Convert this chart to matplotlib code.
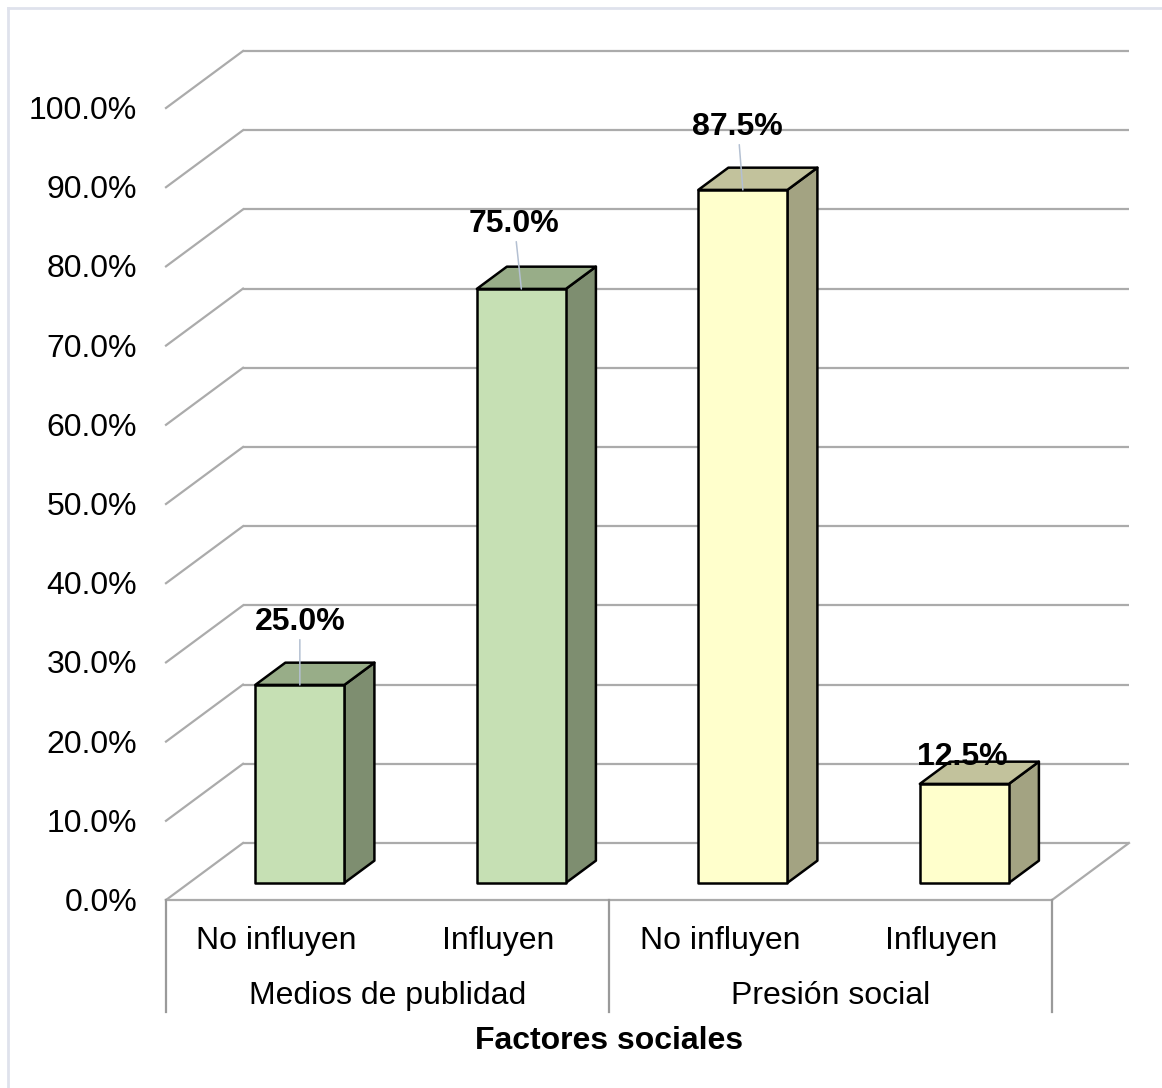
import matplotlib
matplotlib.use('Agg')
import matplotlib.pyplot as plt
from matplotlib.patches import Polygon
from matplotlib.lines import Line2D

plt.rcParams['font.family'] = ['Liberation Sans', 'DejaVu Sans']
plt.rcParams['font.size'] = 23

#%% Data
groups = ['Medios de publidad', 'Presión social']
categories = ['No influyen', 'Influyen', 'No influyen', 'Influyen']
values = [25.0, 75.0, 87.5, 12.5]
value_labels = ['25.0%', '75.0%', '87.5%', '12.5%']
yticks = [0, 10, 20, 30, 40, 50, 60, 70, 80, 90, 100]
ytick_labels = [f'{t:.1f}%' for t in yticks]
x_title = 'Factores sociales'

#%% Layout (pixels)
W, H, DPI = 1162, 1088, 100
x0_px, x1_px = 166, 1052      # front edge of the floor
y0_px = 900                   # 0% on the front plane
px_per_pct = 7.92
unit_px = (x1_px - x0_px) / len(categories)
txt_drop = 3                  # text sits a little lower than its bbox centre

def pt(px):
    return px * 72 / DPI

fig = plt.figure(figsize=(W / DPI, H / DPI), dpi=DPI)
ax = fig.add_axes([0, 0, 1, 1])
ax.set_axis_off()
ax.set_xlim(-x0_px / unit_px, (W - x0_px) / unit_px)
ax.set_ylim(-(H - y0_px) / px_per_pct, y0_px / px_per_pct)

# depth of the 3D box (back wall offset)
DX = 77 / unit_px
DY = 57 / px_per_pct

def proj(x, y, d):
    return (x + d * DX, y + d * DY)

grid_col = '#ababab'
n = len(categories)

# back wall gridlines and left wall diagonals
for t in yticks:
    ax.plot([DX, n + DX], [t + DY, t + DY], color=grid_col, lw=1.6, zorder=1,
            solid_capstyle='butt')
    ax.plot([0, DX], [t, t + DY], color=grid_col, lw=1.6, zorder=1)

# floor
ax.plot([0, n], [0, 0], color=grid_col, lw=1.6, zorder=1)
ax.plot([n, n + DX], [0, DY], color=grid_col, lw=1.6, zorder=1)

# category axis separators
sep_len = 112 / px_per_pct
for xs in [0, 2, 4]:
    ax.plot([xs, xs], [0, -sep_len], color='#9a9a9a', lw=1.6, zorder=1)

#%% Bars
face_cols = ['#c6e0b4', '#c6e0b4', '#ffffcc', '#ffffcc']
top_cols = ['#98ad88', '#98ad88', '#c2c29c', '#c2c29c']
side_cols = ['#7e8e70', '#7e8e70', '#a3a382', '#a3a382']
bar_w = 0.402
d0, d1 = 0.30, 0.69

for i, v in enumerate(values):
    xl = i + 0.5 - bar_w / 2
    xr = i + 0.5 + bar_w / 2
    side = [proj(xr, 0, d0), proj(xr, 0, d1), proj(xr, v, d1), proj(xr, v, d0)]
    top = [proj(xl, v, d0), proj(xr, v, d0), proj(xr, v, d1), proj(xl, v, d1)]
    front = [proj(xl, 0, d0), proj(xr, 0, d0), proj(xr, v, d0), proj(xl, v, d0)]
    for poly, col in [(side, side_cols[i]), (top, top_cols[i]), (front, face_cols[i])]:
        ax.add_patch(Polygon(poly, closed=True, facecolor=col, edgecolor='black',
                             lw=1.8, joinstyle='round', zorder=3))

# data labels with leader lines
label_off = [(0, 66), (-7, 68), (-5, 66), (-2, 30)]
leader = [True, True, True, False]
for i, v in enumerate(values):
    anchor = proj(i + 0.5, v, d0)
    dx, dy = label_off[i]
    ax.annotate(value_labels[i], xy=anchor, xytext=(pt(dx), pt(dy - txt_drop)),
                textcoords='offset points', ha='center', va='center',
                fontweight='bold', zorder=6,
                arrowprops=dict(arrowstyle='-', color='#b4c0d2', lw=1.1,
                                shrinkA=0, shrinkB=0) if leader[i] else None)

#%% Axis text
for t, lab in zip(yticks, ytick_labels):
    ax.annotate(lab, xy=(0, t), xytext=(pt(-29), pt(-txt_drop)), textcoords='offset points',
                ha='right', va='center')

for i, cat in enumerate(categories):
    ax.annotate(cat, xy=(i + 0.5, 0), xytext=(0, pt(-38 - txt_drop)), textcoords='offset points',
                ha='center', va='center')

for g, grp in enumerate(groups):
    ax.annotate(grp, xy=(2 * g + 1, 0), xytext=(0, pt(-93 - txt_drop)), textcoords='offset points',
                ha='center', va='center')

ax.annotate(x_title, xy=(n / 2, 0), xytext=(0, pt(-138 - txt_drop)), textcoords='offset points',
            ha='center', va='center', fontweight='bold')

# chart area border
fig.add_artist(Line2D([8 / W, 8 / W], [0, 1 - 8 / H], color='#dfe2ec', lw=2))
fig.add_artist(Line2D([8 / W, 1], [1 - 8 / H, 1 - 8 / H], color='#dfe2ec', lw=2))

fig.savefig('out.png', dpi=DPI)
